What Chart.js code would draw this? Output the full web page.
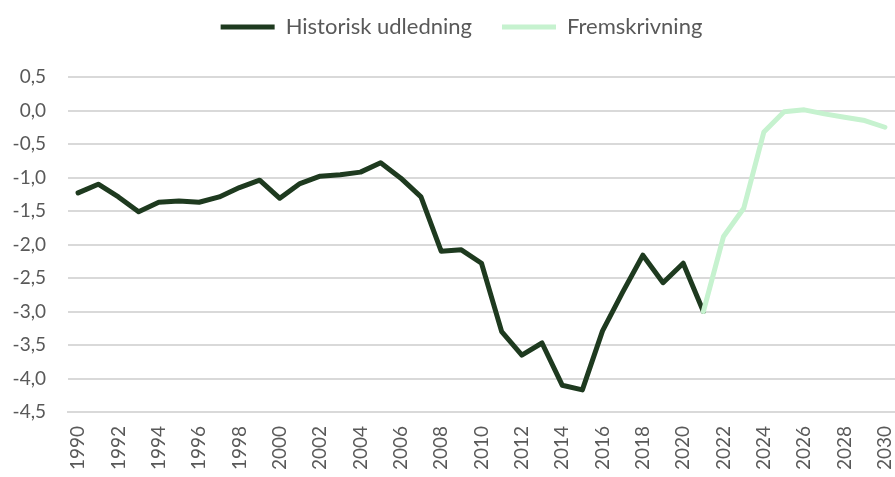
<!DOCTYPE html>
<html>
<head>
<meta charset="utf-8">
<script src="https://cdn.jsdelivr.net/npm/chart.js@4/dist/chart.umd.min.js"></script>
<style>
  html, body { margin: 0; padding: 0; background: #ffffff; }
  #wrap { width: 895px; height: 477px; position: relative; }
</style>
</head>
<body>
<div id="wrap"><canvas id="c"></canvas></div>
<script>
const years = [];
for (let y = 1990; y <= 2030; y++) years.push(String(y));

const historisk = [
  -1.23, -1.10, -1.29, -1.51, -1.37, -1.35, -1.37, -1.29, -1.15, -1.04,
  -1.31, -1.09, -0.98, -0.96, -0.92, -0.78, -1.01, -1.29, -2.10, -2.08,
  -2.28, -3.30, -3.65, -3.47, -4.10, -4.17, -3.29, -2.71, -2.16, -2.57,
  -2.28, -3.00,
  null, null, null, null, null, null, null, null, null
];

const fremskrivning = [
  null, null, null, null, null, null, null, null, null, null,
  null, null, null, null, null, null, null, null, null, null,
  null, null, null, null, null, null, null, null, null, null,
  null, -3.00,
  -1.88, -1.46, -0.32, -0.02, 0.01, -0.05, -0.10, -0.15, -0.25
];

const seriesNames = ['Historisk udledning', 'Fremskrivning'];
const seriesColors = ['#1e3a1f', '#c6f2cf'];

const FONT = 'Lato, "Open Sans", sans-serif';
const TEXT = '#595959';

const LEGEND_PAD = 30;
const TOP_PAD = -14;
const LEGEND_SHIFT = 14;

const legendSpacer = {
  id: 'legendSpacer',
  beforeInit(chart) {
    const orig = chart.legend.fit;
    chart.legend.fit = function () {
      orig.bind(chart.legend)();
      this.height = 77 - TOP_PAD;
    };
  },
  afterLayout(chart) {
    chart.legend.left += LEGEND_SHIFT;
    chart.legend.right += LEGEND_SHIFT;
  }
};

new Chart(document.getElementById('c'), {
  type: 'line',
  data: {
    labels: years,
    datasets: [
      {
        label: seriesNames[0], data: historisk,
        borderColor: seriesColors[0], backgroundColor: seriesColors[0],
        borderWidth: 5, pointRadius: 0, tension: 0, order: 1,
        borderCapStyle: 'round', borderJoinStyle: 'round', spanGaps: false
      },
      {
        label: seriesNames[1], data: fremskrivning,
        borderColor: seriesColors[1], backgroundColor: seriesColors[1],
        borderWidth: 5, pointRadius: 0, tension: 0, order: 0,
        borderCapStyle: 'round', borderJoinStyle: 'round', spanGaps: false
      }
    ]
  },
  options: {
    responsive: true,
    maintainAspectRatio: false,
    animation: false,
    layout: { padding: { top: TOP_PAD, right: 0, bottom: 0, left: 0 } },
    plugins: {
      tooltip: { enabled: false },
      legend: {
        position: 'top',
        align: 'center',
        labels: {
          boxWidth: 54,
          boxHeight: 5,
          padding: LEGEND_PAD,
          color: TEXT,
          font: { family: FONT, size: 22 },
          sort: (a, b) => a.datasetIndex - b.datasetIndex,
          generateLabels(chart) {
            const items = Chart.defaults.plugins.legend.labels.generateLabels(chart);
            items.forEach(it => {
              it.lineWidth = 0;
              it.fillStyle = seriesColors[it.datasetIndex];
              it.strokeStyle = seriesColors[it.datasetIndex];
            });
            return items;
          }
        }
      }
    },
    scales: {
      x: {
        type: 'category',
        offset: true,
        grid: { display: false, drawTicks: false },
        border: { display: true, color: '#d9d9d9', width: 2 },
        ticks: {
          autoSkip: false,
          minRotation: 90,
          maxRotation: 90,
          padding: 14,
          color: TEXT,
          font: { family: FONT, size: 19 },
          callback: function (v, i) { return i % 2 === 0 ? years[i] : ''; }
        },
        afterFit(scale) {
          scale.height = 65;
          scale.paddingLeft = 0;
          scale.paddingRight = 0;
        }
      },
      y: {
        min: -4.5,
        max: 0.5,
        grid: { color: '#d9d9d9', lineWidth: 2, drawTicks: false },
        border: { display: false },
        ticks: {
          stepSize: 0.5,
          padding: 22,
          color: TEXT,
          font: { family: FONT, size: 19 },
          callback: v => (Math.abs(v) < 1e-9 ? 0 : v).toFixed(1).replace('.', ',')
        },
        afterFit(scale) {
          scale.width = 68;
          scale.paddingTop = 0;
          scale.paddingBottom = 0;
        }
      }
    }
  },
  plugins: [legendSpacer]
});
</script>
</body>
</html>
